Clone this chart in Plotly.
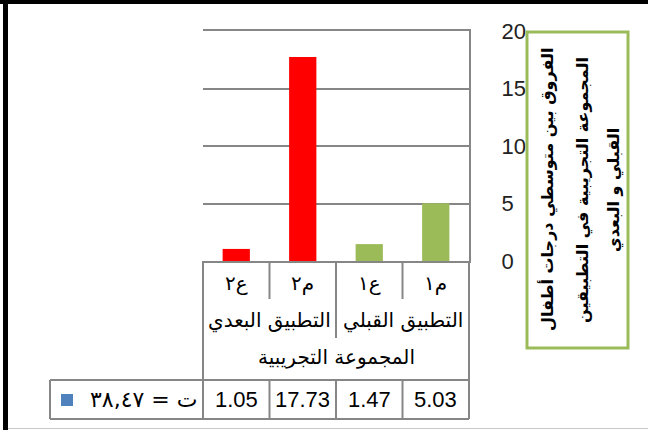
import plotly.graph_objects as go

# ---- data ----
categories = ["م١", "ع١", "م٢", "ع٢"]
values = [5.03, 1.47, 17.73, 1.05]
bar_colors = ["#9BBB59", "#9BBB59", "#FF0000", "#FF0000"]
value_labels = ["5.03", "1.47", "17.73", "1.05"]
group_labels = ["التطبيق القبلي", "التطبيق البعدي"]
top_label = "المجموعة التجريبية"
series_name = "ت = ٣٨,٤٧"
title_lines = ["الفروق بين متوسطي درجات أطفال",
               "المجموعة التجريبية في التطبيقين",
               "القبلي و البعدي"]
y_ticks = [0, 5, 10, 15, 20]

W, H = 648, 430
L, R, T, B = 203, 469, 31, 261  # plot area in px


def px(x):
    return (x - L) / (R - L)


def py(y):
    return (B - y) / (B - T)


AR = "DejaVu Sans"
NUM = "Liberation Sans"
GRID = "#868686"

fig = go.Figure()
fig.add_trace(go.Bar(x=list(range(len(categories))), y=values,
                     marker=dict(color=bar_colors, line=dict(width=0)),
                     name=series_name, showlegend=False))

fig.update_layout(
    width=W, height=H,
    margin=dict(l=L, r=W - R, t=T, b=H - B, pad=0),
    paper_bgcolor="white", plot_bgcolor="white",
    bargap=0.59,
    xaxis=dict(range=[3.5, -0.5], showticklabels=False, showgrid=False,
               zeroline=False, showline=True, mirror=True, linecolor=GRID,
               linewidth=2, fixedrange=True),
    yaxis=dict(side="right", range=[0, 20], tickvals=y_ticks,
               showgrid=True, gridcolor=GRID, gridwidth=2,
               zeroline=False, showline=True, linecolor=GRID, linewidth=2,
               ticks="", ticklabelstandoff=26, fixedrange=True,
               tickfont=dict(family=NUM, size=22, color="#222222")),
)

shapes = []
LC = dict(color=GRID, width=2)


def hline(x0, x1, y):
    shapes.append(dict(type="line", xref="paper", yref="paper",
                       x0=px(x0), x1=px(x1), y0=py(y), y1=py(y), line=LC))


def vline(x, y0, y1):
    shapes.append(dict(type="line", xref="paper", yref="paper",
                       x0=px(x), x1=px(x), y0=py(y0), y1=py(y1), line=LC))


def box(x0, x1, y0, y1, color):
    shapes.append(dict(type="rect", xref="paper", yref="paper",
                       x0=px(x0), x1=px(x1), y0=py(y1), y1=py(y0),
                       fillcolor=color, line=dict(width=0)))


# data table frame
vline(L, B, 419)
vline(R, B, 419)
hline(50, R, 380)
hline(50, R, 419)
vline(50, 380, 419)
col_edges = [L + (R - L) * k / 4 for k in range(5)]
for xe in col_edges[1:4]:
    vline(xe, 380, 419)
vline(col_edges[1], B, 299)
vline(col_edges[3], B, 299)
vline(col_edges[2], B, 338)

# legend key
box(61, 73, 394, 406, "#4F81BD")

# title box
shapes.append(dict(type="rect", xref="paper", yref="paper",
                   x0=px(527), x1=px(628), y0=py(348), y1=py(32),
                   fillcolor="white", line=dict(color="#9BBB59", width=3)))

# outer frame
box(0, W, 0, 4, "black")
box(3, 8, 0, H, "black")
box(8, W, 428, 429, "#c8c8c8")

fig.update_layout(shapes=shapes)


def note(x, xref, y, text, font, **kw):
    d = dict(x=x, xref=xref, y=y, yref="paper", text=text, showarrow=False,
             xanchor="center", yanchor="middle", font=font)
    d.update(kw)
    return d


ann = []
for i, c in enumerate(categories):
    ann.append(note(i, "x", py(283), c, dict(family=AR, size=20, color="black")))
    ann.append(note(i, "x", py(399), value_labels[i],
                    dict(family=NUM, size=22, color="black")))
for g, lab in enumerate(group_labels):
    ann.append(note(2 * g + 0.5, "x", py(320), lab,
                    dict(family=AR, size=20, color="black")))
ann.append(note(1.5, "x", py(357), top_label, dict(family=AR, size=20, color="black")))
ann.append(note(px(199), "paper", py(399), series_name,
                dict(family=AR, size=22, color="black"), xanchor="right"))
for line, xc in zip(title_lines, [547, 583, 614]):
    ann.append(note(px(xc), "paper", py(190), "<b>" + line + "</b>",
                    dict(family=AR, size=16, color="black"), textangle=-90))
fig.update_layout(annotations=ann)

post = ("document.body.style.margin='0';"
        "var d=document.createElement('div');"
        "d.style.cssText='position:fixed;left:0;top:0;width:648px;height:4px;"
        "background:#000;z-index:1000;pointer-events:none';"
        "document.body.appendChild(d);")
fig.write_html("out.html", config={"displayModeBar": False}, post_script=post)
